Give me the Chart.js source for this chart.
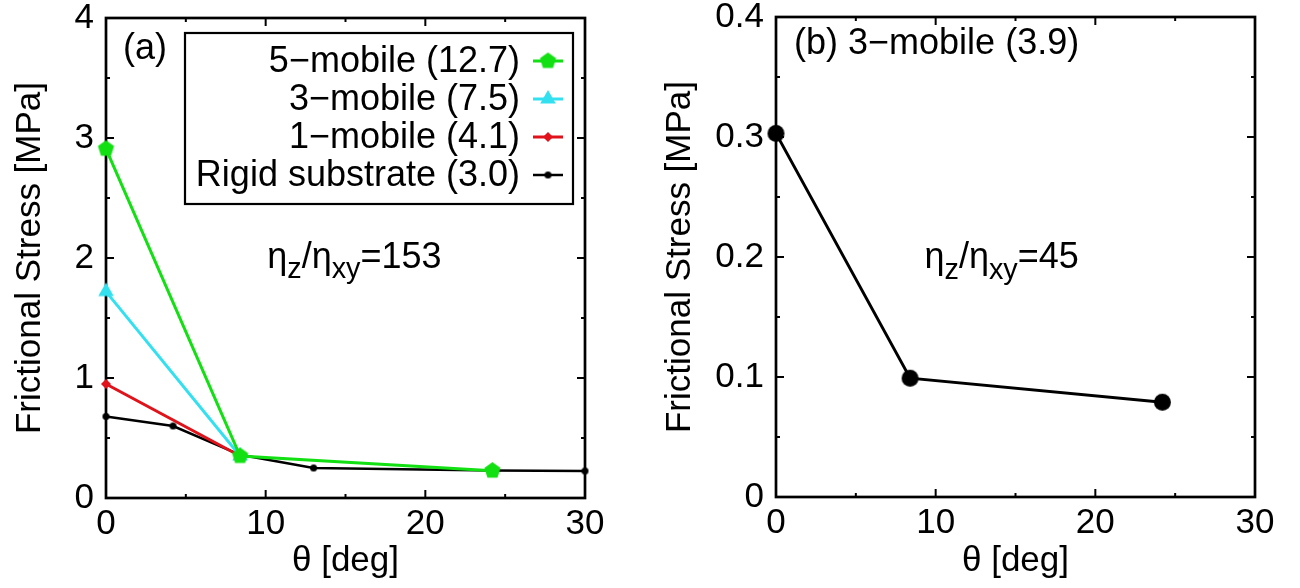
<!DOCTYPE html>
<html>
<head>
<meta charset="utf-8">
<script src="https://cdn.jsdelivr.net/npm/chart.js@4"></script>
<style>
  html, body { margin: 0; padding: 0; background: #fff; }
  #wrap { position: relative; width: 1300px; height: 588px; }
  .panel { position: absolute; top: 0; width: 650px; height: 588px; }
</style>
</head>
<body>
<div id="wrap">
  <div class="panel" style="left:0"><canvas id="left" width="650" height="588"></canvas></div>
  <div class="panel" style="left:650px"><canvas id="right" width="650" height="588"></canvas></div>
</div>
<script>
// panel (a)
const theta5 = [0, 8.4, 24.2];
const mobile5 = [2.91, 0.35, 0.228];
const theta3 = [0, 8.4];
const mobile3 = [1.72, 0.35];
const theta1 = [0, 8.4];
const mobile1 = [0.95, 0.35];
const thetaRigid = [0, 4.2, 8.4, 13.0, 24.2, 30];
const rigid = [0.68, 0.60, 0.36, 0.25, 0.23, 0.225];
const labelsA = ["5\u2212mobile (12.7)", "3\u2212mobile (7.5)", "1\u2212mobile (4.1)", "Rigid substrate (3.0)"];

// panel (b)
const thetaB = [0, 8.4, 24.2];
const mobile3b = [0.303, 0.099, 0.079];

// tick labels
const xTicks = [0, 10, 20, 30];
const yTicksA = [0, 1, 2, 3, 4];
const yTicksB = [0, 0.1, 0.2, 0.3, 0.4];

const FONT = '"Liberation Sans", Arial, Helvetica, sans-serif';
Chart.defaults.font.family = FONT;
Chart.defaults.color = '#000';

function marker(shape, r, color) {
  const s = Math.ceil(2 * r + 2);
  const c = document.createElement('canvas');
  c.width = s; c.height = s;
  const g = c.getContext('2d');
  g.fillStyle = color;
  g.beginPath();
  if (shape === 'circle') {
    g.arc(s / 2, s / 2, r, 0, Math.PI * 2);
  } else {
    const n = shape === 'pentagon' ? 5 : shape === 'triangle' ? 3 : 4;
    for (let i = 0; i < n; i++) {
      const a = -Math.PI / 2 + i * 2 * Math.PI / n;
      const px = s / 2 + r * Math.cos(a), py = s / 2 + r * Math.sin(a);
      i ? g.lineTo(px, py) : g.moveTo(px, py);
    }
    g.closePath();
  }
  g.fill();
  return c;
}

const GREEN = '#12e012', CYAN = '#33e0f0', RED = '#e0121a', BLACK = '#000';

function pts(xs, ys) { return xs.map((v, i) => ({ x: v, y: ys[i] })); }

function line(label, xs, ys, color, width, style) {
  return {
    label: label, data: pts(xs, ys),
    borderColor: color, backgroundColor: color, borderWidth: width,
    pointStyle: style, pointRadius: 6, pointHoverRadius: 6,
    tension: 0, clip: false
  };
}

function richText(ctx, x, y, parts, size) {
  let cx = x;
  parts.forEach(p => {
    const fs = p.sub ? size * 0.8 : size;
    ctx.font = fs + 'px ' + FONT;
    ctx.fillText(p.t, cx, y + (p.sub ? size * 0.3 : 0));
    cx += ctx.measureText(p.t).width;
  });
}

// frame with gnuplot-like inward ticks on all four sides, plus notes and legend
function framePlugin(notes, legend) {
  return {
    id: 'frame',
    beforeDatasetsDraw(chart) {
      const { ctx, chartArea: a, scales: { x, y } } = chart;
      ctx.save();
      ctx.strokeStyle = '#000';
      ctx.lineWidth = 2.7;
      ctx.strokeRect(a.left, a.top, a.right - a.left, a.bottom - a.top);
      ctx.lineWidth = 2;
      ctx.beginPath();
      const xv = x.ticks.map(t => t.value), yv = y.ticks.map(t => t.value);
      xv.forEach((v, i) => {
        const p = x.getPixelForValue(v);
        ctx.moveTo(p, a.bottom); ctx.lineTo(p, a.bottom - 8);
        ctx.moveTo(p, a.top); ctx.lineTo(p, a.top + 8);
        if (i < xv.length - 1) {
          const m = x.getPixelForValue((v + xv[i + 1]) / 2);
          ctx.moveTo(m, a.bottom); ctx.lineTo(m, a.bottom - 4);
          ctx.moveTo(m, a.top); ctx.lineTo(m, a.top + 4);
        }
      });
      yv.forEach((v, i) => {
        const p = y.getPixelForValue(v);
        ctx.moveTo(a.left, p); ctx.lineTo(a.left + 8, p);
        ctx.moveTo(a.right, p); ctx.lineTo(a.right - 8, p);
        if (i < yv.length - 1) {
          const m = y.getPixelForValue((v + yv[i + 1]) / 2);
          ctx.moveTo(a.left, m); ctx.lineTo(a.left + 4, m);
          ctx.moveTo(a.right, m); ctx.lineTo(a.right - 4, m);
        }
      });
      ctx.stroke();
      ctx.restore();
    },
    afterDatasetsDraw(chart) {
      const { ctx, chartArea: a, scales: { x, y } } = chart;
      ctx.save();
      ctx.fillStyle = '#000';
      ctx.textAlign = 'left';
      ctx.textBaseline = 'alphabetic';
      notes.forEach(n => richText(ctx, x.getPixelForValue(n.x), y.getPixelForValue(n.y), n.parts, n.size));
      if (legend) {
        const bw = 388, bh = 171;
        const bx = a.right - 12 - bw, by = a.top + 15;
        ctx.fillStyle = '#fff';
        ctx.fillRect(bx, by, bw, bh);
        ctx.strokeStyle = '#000';
        ctx.lineWidth = 2.2;
        ctx.strokeRect(bx, by, bw, bh);
        ctx.font = '36px ' + FONT;
        ctx.textAlign = 'right';
        ctx.textBaseline = 'middle';
        chart.data.datasets.forEach((ds, i) => {
          const cy = by + 28 + 38 * i;
          ctx.fillStyle = '#000';
          ctx.fillText(ds.label, bx + bw - 53, cy + 1);
          ctx.strokeStyle = ds.borderColor;
          ctx.lineWidth = ds.borderWidth;
          ctx.beginPath();
          ctx.moveTo(bx + bw - 40, cy); ctx.lineTo(bx + bw - 10, cy);
          ctx.stroke();
          const img = ds.pointStyle;
          ctx.drawImage(img, bx + bw - 25 - img.width / 2, cy - img.height / 2);
        });
      }
      ctx.restore();
    }
  };
}

function options(yTicks, yWidth, padRight, padTop, xHeight) {
  const fixTicks = list => scale => { scale.ticks = list.map(v => ({ value: v })); };
  return {
    responsive: false,
    animation: false,
    layout: { padding: { left: 0, top: padTop, right: padRight, bottom: 0 } },
    plugins: { legend: { display: false }, tooltip: { enabled: false } },
    scales: {
      x: {
        type: 'linear', min: xTicks[0], max: xTicks[xTicks.length - 1],
        afterBuildTicks: fixTicks(xTicks),
        afterFit: s => { s.height = xHeight; s.paddingLeft = 0; s.paddingRight = 0; },
        grid: { display: false, drawTicks: false },
        border: { display: false },
        ticks: { padding: 9, font: { size: 35, lineHeight: 1 }, color: '#000' },
        title: { display: true, text: '\u03b8 [deg]', font: { size: 35 }, color: '#000', padding: { top: 0, bottom: 6 } }
      },
      y: {
        type: 'linear', min: yTicks[0], max: yTicks[yTicks.length - 1],
        afterBuildTicks: fixTicks(yTicks),
        afterFit: s => { s.width = yWidth; s.paddingTop = 0; s.paddingBottom = 0; },
        grid: { display: false, drawTicks: false },
        border: { display: false },
        ticks: { padding: 12, font: { size: 35, lineHeight: 1 }, color: '#000' },
        title: { display: true, text: 'Frictional Stress [MPa]', font: { size: 35 }, color: '#000', padding: { top: 9, bottom: 0 } }
      }
    }
  };
}

const eta = v => [{ t: '\u03b7' }, { t: 'z', sub: true }, { t: '/\u03b7' }, { t: 'xy', sub: true }, { t: '=' + v }];

new Chart(document.getElementById('left'), {
  type: 'line',
  data: {
    datasets: [
      line(labelsA[0], theta5, mobile5, GREEN, 3, marker('pentagon', 8.5, GREEN)),
      line(labelsA[1], theta3, mobile3, CYAN, 3, marker('triangle', 9, CYAN)),
      line(labelsA[2], theta1, mobile1, RED, 3, marker('diamond', 5, RED)),
      line(labelsA[3], thetaRigid, rigid, BLACK, 2.5, marker('circle', 3.5, BLACK))
    ]
  },
  options: options(yTicksA, 106, 65, 18, 90),
  plugins: [framePlugin([
    { x: 1.06, y: 3.655, size: 36, parts: [{ t: '(a)' }] },
    { x: 10.1, y: 1.92, size: 36, parts: eta('153') }
  ], true)]
});

new Chart(document.getElementById('right'), {
  type: 'line',
  data: {
    datasets: [
      line('3\u2212mobile (3.9)', thetaB, mobile3b, BLACK, 3, marker('circle', 8.5, BLACK))
    ]
  },
  options: options(yTicksB, 126, 45, 17, 91),
  plugins: [framePlugin([
    { x: 1.13, y: 0.369, size: 36, parts: [{ t: '(b) 3\u2212mobile (3.9)' }] },
    { x: 9.3, y: 0.191, size: 36, parts: eta('45') }
  ], false)]
});
</script>
</body>
</html>
